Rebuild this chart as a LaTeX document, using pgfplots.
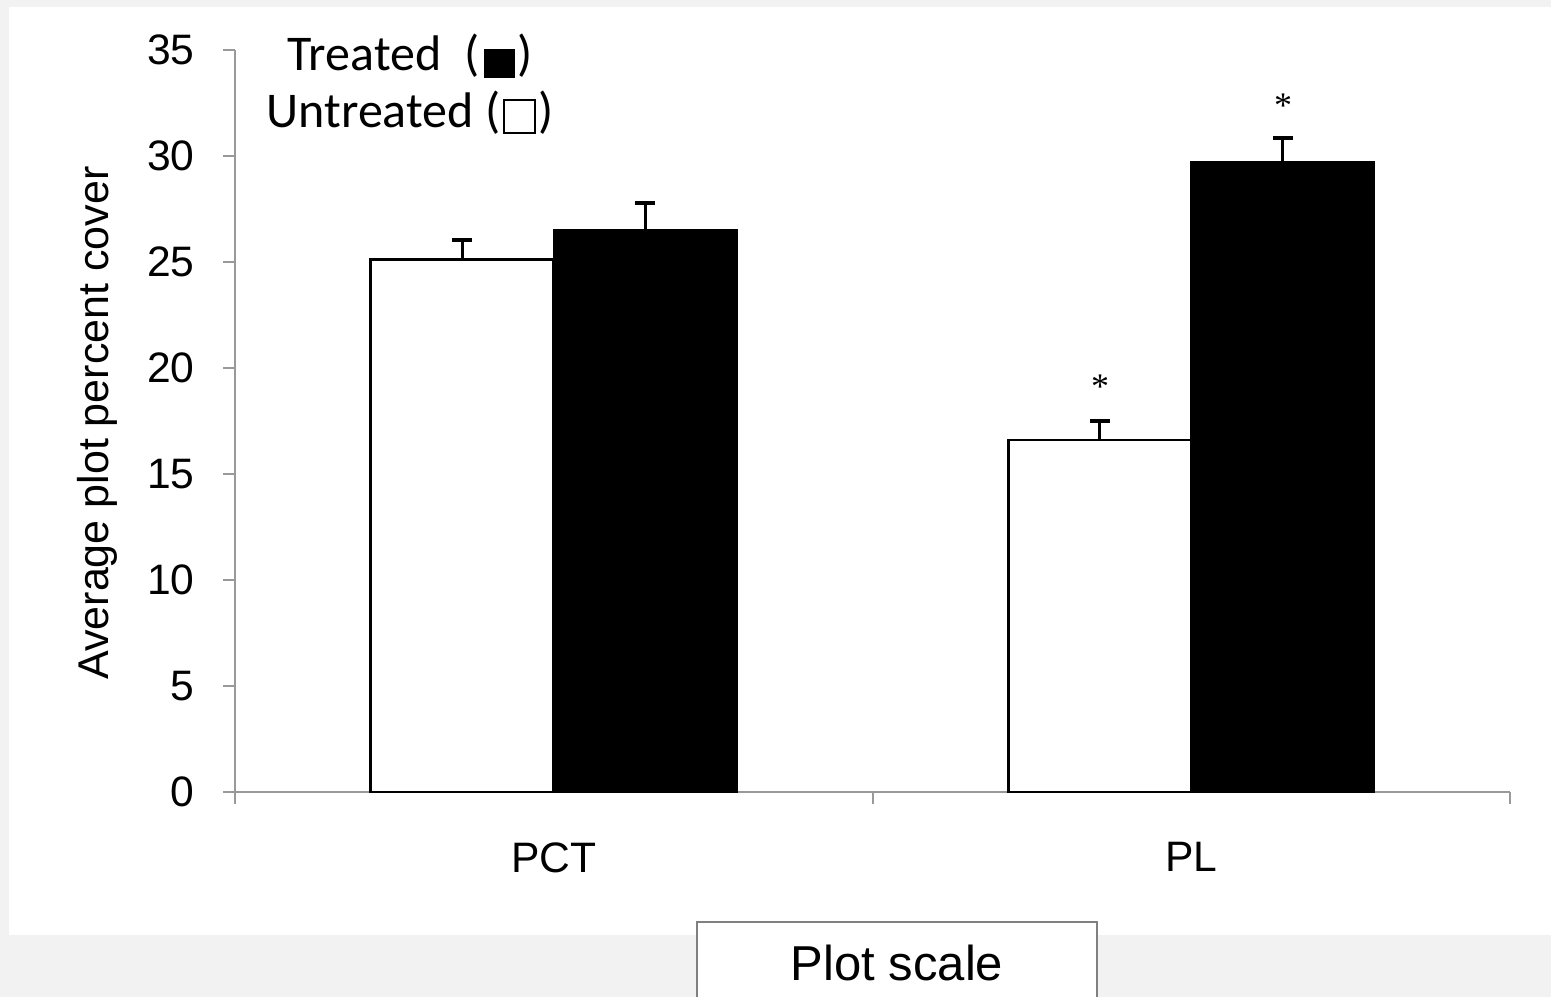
\documentclass[border=0pt]{standalone}
\usepackage{fontspec}
\setmainfont{Liberation Sans}
\newfontfamily\calibri{Carlito}
\newfontfamily\timesf{Liberation Serif}
\usepackage{pgfplots}
\pgfplotsset{compat=1.18}
\definecolor{bg}{HTML}{F2F2F2}
\definecolor{axgray}{HTML}{999999}
\definecolor{boxgray}{HTML}{808080}
\begin{document}
\begin{tikzpicture}[x=0.5pt,y=0.5pt]
\fill[bg] (0,0) rectangle (1551,997);
\fill[white] (9,62) rectangle (1551,990);
\begin{axis}[
  at={(117.5pt,102.5pt)}, anchor=south west,
  scale only axis, width=637.5pt, height=371pt,
  xmin=-0.5, xmax=1.5, ymin=0, ymax=35,
  axis x line*=bottom, axis y line*=left,
  axis line style={axgray, line width=1pt},
  tick style={axgray, line width=1pt},
  tick align=outside, major tick length=6pt,
  ytick={0,5,...,35},
  xtick={-0.5,0.5,1.5}, xticklabels={},
  extra x ticks={0,1}, extra x tick labels={PCT,PL},
  extra x tick style={major tick length=0pt},
  ybar, bar width=91.5pt,
  clip=false,
  /pgf/number format/assume math mode=true,
  ticklabel style={font=\fontsize{21.3}{25}\selectfont},
  yticklabel style={inner sep=0pt, xshift=-14pt},
  xticklabel style={inner sep=0pt, yshift=-25pt},
]
\addplot[fill=white, draw=black, line width=1.4pt, bar shift=-45.75pt,
  error bars/.cd, y dir=plus, y explicit,
  error bar style={black, line width=1.4pt},
  error mark options={rotate=90, mark size=5pt, line width=1.8pt, black}]
  coordinates {(0,25.13) +- (0,0.91) (1,16.6) +- (0,0.91)};
\addplot[fill=black, draw=black, line width=1pt, bar shift=45.75pt,
  error bars/.cd, y dir=plus, y explicit,
  error bar style={black, line width=1.4pt},
  error mark options={rotate=90, mark size=5pt, line width=1.8pt, black}]
  coordinates {(0,26.5) +- (0,1.29) (1,29.73) +- (0,1.13)};
\node[font=\timesf\fontsize{18}{20}\selectfont, yshift=-2pt] at (axis cs:0.857,19.29) {*};
\node[font=\timesf\fontsize{18}{20}\selectfont, yshift=-2pt] at (axis cs:1.144,32.55) {*};
\end{axis}
\node[rotate=90, anchor=base, font=\fontsize{21.5}{25}\selectfont] at (108,574) {Average plot percent cover};
\node[anchor=base, font=\calibri\fontsize{25}{30}\selectfont] at (410,926) {Treated\ \ (\hspace{2.5pt}\raisebox{-3.5pt}{\rule{15.5pt}{14.5pt}}\hspace{1pt})};
\node[anchor=base, font=\calibri\fontsize{25}{30}\selectfont] at (410,869) {Untreated (\hspace{1.5pt}\raisebox{-2pt}{\fboxsep=0pt\fboxrule=1pt\fbox{\rule{0pt}{15.5pt}\hspace{14.5pt}}}\hspace{1pt})};
\fill[white] (697,0) rectangle (1097,75);
\draw[boxgray, line width=1pt] (697,0) -- (697,75) -- (1097,75) -- (1097,0);
\node[anchor=base, font=\fontsize{24.5}{29}\selectfont] at (897,17) {Plot scale};
\end{tikzpicture}
\end{document}
